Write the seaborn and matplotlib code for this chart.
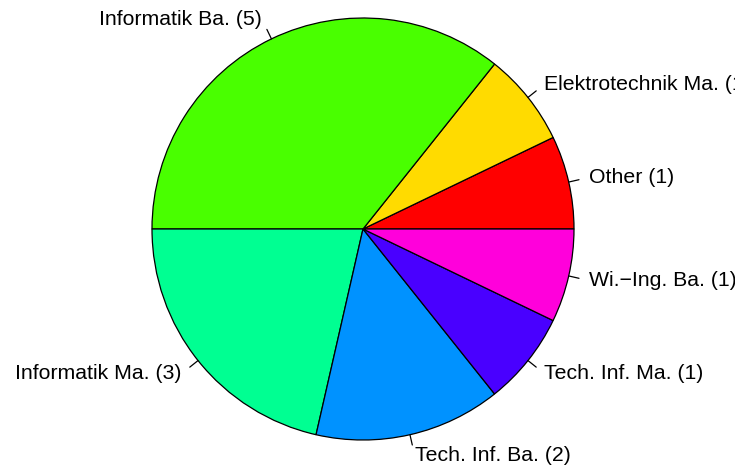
import numpy as np
import matplotlib
matplotlib.use("Agg")
import matplotlib.pyplot as plt
import seaborn as sns

labels = ["Other (1)", "Elektrotechnik Ma. (1)", "Informatik Ba. (5)", "Informatik Ma. (3)",
          "Tech. Inf. Ba. (2)", "Tech. Inf. Ma. (1)", "Wi.\u2212Ing. Ba. (1)"]
values = [1, 1, 5, 3, 2, 1, 1]
colors = ["#FF0000", "#FFDB00", "#49FF00", "#00FF92", "#0092FF", "#4900FF", "#FF00DB"]

sns.set_theme(style="white")
plt.rcParams['font.family'] = ['Liberation Sans', 'DejaVu Sans']

W, H = 735, 473
cx, cy, R = 363, 229, 211
fig = plt.figure(figsize=(W / 100, H / 100), dpi=100)
ax = fig.add_axes([0, 0, 1, 1])
wedges, _ = ax.pie(values, colors=colors, startangle=0, counterclock=True, radius=1,
                   wedgeprops=dict(edgecolor="black", linewidth=0.9))
for w, lab in zip(wedges, labels):
    mid = np.deg2rad((w.theta1 + w.theta2) / 2)
    x, y = np.cos(mid), np.sin(mid)
    ax.plot([x, 1.05 * x], [y, 1.05 * y], color="black", lw=0.9)
    ax.text(1.1 * x, 1.1 * y, lab, ha="left" if x > 0 else "right", va="center",
            fontsize=15.3, color="black")
ax.set_xlim(-cx / R, (W - cx) / R)
ax.set_ylim(-(H - cy) / R, cy / R)
ax.set_aspect("auto")
ax.axis("off")
fig.savefig("out.png", dpi=100, facecolor="white")
